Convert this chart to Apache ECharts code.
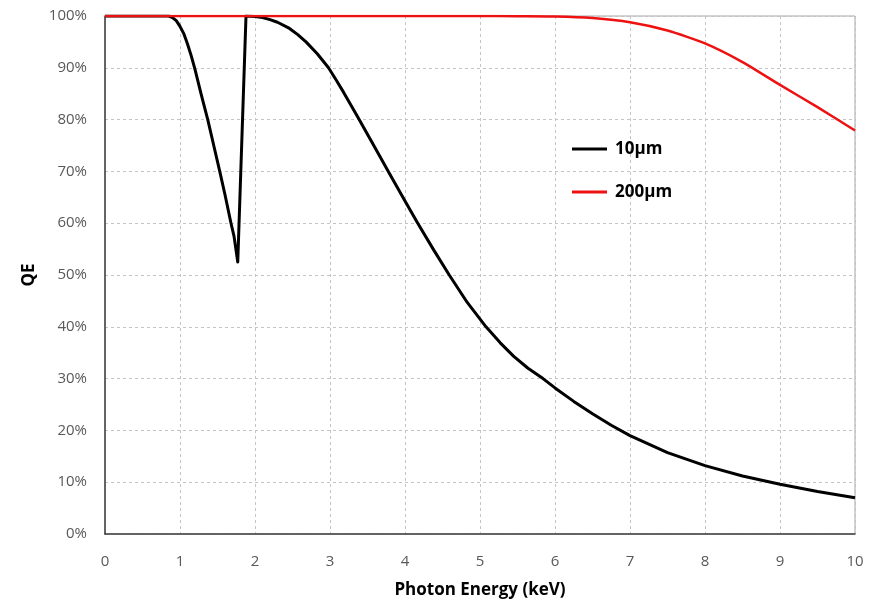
<!DOCTYPE html>
<html lang="en">
<head>
    <meta charset="UTF-8">
    <title>QE vs Photon Energy</title>
    <script src="https://cdn.jsdelivr.net/npm/echarts@6/dist/echarts.min.js"></script>
    <style>
        html, body { margin: 0; padding: 0; background: #fff; }
    </style>
</head>
<body>
<div id="main" style="width: 879px;height:603px;"></div>
<script type="text/javascript">
    // 10µm curve (keV, %)
    var energy10 = [0, 0.85, 0.9, 0.95, 1.0, 1.05, 1.1, 1.15, 1.2, 1.28, 1.37, 1.45, 1.53, 1.6, 1.68, 1.72, 1.77, 1.88,
        2.0, 2.1, 2.2, 2.3, 2.46, 2.57, 2.68, 2.83, 2.98, 3.08, 3.18, 3.37, 3.58, 3.8, 4.0, 4.17, 4.38, 4.59,
        4.83, 5.08, 5.27, 5.45, 5.64, 5.84, 6.0, 6.25, 6.5, 6.75, 7.0, 7.5, 8.0, 8.5, 9.0, 9.5, 10];
    var qe10 = [100, 100, 99.7, 99.1, 98.0, 96.6, 94.6, 92.3, 89.7, 85, 80, 75, 70, 65.5, 60, 57.5, 52.5, 100,
        99.9, 99.7, 99.3, 98.8, 97.6, 96.4, 95, 92.7, 90, 87.7, 85.3, 80.5, 75.1, 69.4, 64.3, 60, 54.9, 50,
        44.7, 40, 36.9, 34.3, 32.0, 30, 28.2, 25.6, 23.2, 21.0, 19, 15.7, 13.2, 11.2, 9.6, 8.2, 7.0];
    // 200µm curve
    var energy200 = [0, 5.0, 5.5, 6.0, 6.5, 7.0, 7.5, 8.0, 8.5, 9.0, 9.5, 10];
    var qe200 = [100, 100, 99.95, 99.9, 99.6, 98.8, 97.2, 94.7, 91.1, 86.7, 82.4, 77.9];
    var seriesNames = ['10µm', '200µm'];

    function pairs(xs, ys) {
        return xs.map(function (x, i) { return [x, ys[i]]; });
    }

    var myChart = echarts.init(document.getElementById('main'));
    var labelFont = '"Open Sans", "Liberation Sans", sans-serif';

    var option = {
        animation: false,
        backgroundColor: '#fff',
        textStyle: { fontFamily: labelFont },
        grid: {
            left: 105, right: 24, top: 16, bottom: 69,
            outerBoundsMode: 'none',
            show: true, borderColor: '#a6a6a6', borderWidth: 1
        },
        legend: {
            data: seriesNames,
            orient: 'vertical',
            left: 567, top: 134,
            icon: 'rect',
            itemWidth: 35, itemHeight: 3,
            itemGap: 23,
            textStyle: { fontSize: 17, fontWeight: 'bold', color: '#000', lineHeight: 20, padding: [0, 0, 0, 3] }
        },
        xAxis: {
            type: 'value',
            min: 0, max: 10, interval: 1,
            name: 'Photon Energy (keV)',
            nameLocation: 'middle',
            nameGap: 48,
            nameTextStyle: { fontSize: 17, fontWeight: 'bold', color: '#000' },
            axisLine: { show: true, lineStyle: { color: '#404040', width: 1.5 } },
            axisTick: { show: false },
            axisLabel: { margin: 20, fontSize: 15, color: '#595959' },
            splitLine: { show: true, lineStyle: { color: '#c4c4c4', type: [3, 3], width: 1 } }
        },
        yAxis: {
            type: 'value',
            min: 0, max: 100, interval: 10,
            name: 'QE',
            nameLocation: 'middle',
            nameGap: 66,
            nameTextStyle: { fontSize: 17, fontWeight: 'bold', color: '#000' },
            axisLine: { show: true, lineStyle: { color: '#404040', width: 1.5 } },
            axisTick: { show: false },
            axisLabel: { margin: 18, fontSize: 15, color: '#595959', formatter: '{value}%' },
            splitLine: { show: true, lineStyle: { color: '#c4c4c4', type: [3, 3], width: 1 } }
        },
        series: [{
            name: seriesNames[0],
            type: 'line',
            showSymbol: false,
            data: pairs(energy10, qe10),
            itemStyle: { color: '#000' },
            lineStyle: { color: '#000', width: 3, join: 'round' }
        }, {
            name: seriesNames[1],
            type: 'line',
            showSymbol: false,
            smooth: 0.2,
            data: pairs(energy200, qe200),
            itemStyle: { color: '#ee1111' },
            lineStyle: { color: '#ee1111', width: 2.5 }
        }]
    };
    myChart.setOption(option);
</script>
</body>
</html>
